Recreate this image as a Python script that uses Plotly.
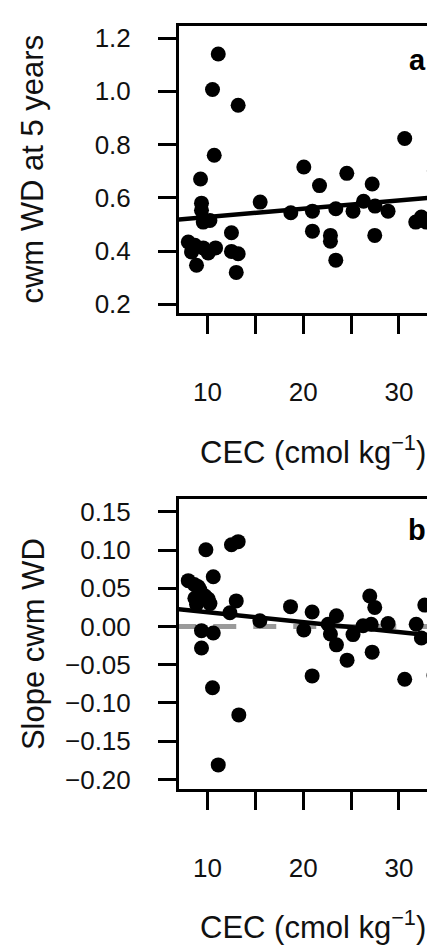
import plotly.graph_objects as go

# ---------------- data ----------------
# Panel a: CEC vs cwm WD at 5 years
cec_a = [11.12, 10.52, 13.2, 10.7, 9.27, 20.06, 21.7, 24.55, 27.2, 30.6, 33.7,
         15.5, 9.37, 9.37, 9.55, 10.25, 18.7, 20.96, 23.4, 25.2, 26.3, 27.5,
         28.86, 31.75, 32.34, 32.86, 20.96, 22.84, 22.84, 23.4, 27.47, 12.5,
         12.5, 13.2, 13.0, 7.99, 8.68, 8.33, 9.55, 10.07, 10.84, 8.85]
wd_a = [1.140, 1.007, 0.948, 0.760, 0.671, 0.716, 0.646, 0.692, 0.652, 0.823, 0.702,
        0.584, 0.580, 0.553, 0.509, 0.515, 0.544, 0.550, 0.559, 0.550, 0.587, 0.569,
        0.550, 0.509, 0.528, 0.509, 0.475, 0.459, 0.437, 0.366, 0.459, 0.469,
        0.399, 0.390, 0.320, 0.434, 0.422, 0.397, 0.412, 0.393, 0.412, 0.347]
fit_a = {"intercept": 0.497, "slope": 0.00312}

# Panel b: CEC vs slope of cwm WD
cec_b = [7.99, 8.61, 9.03, 9.2, 9.73, 8.68, 8.85, 10.07, 10.25, 9.83, 12.5, 13.2,
         10.6, 13.0, 12.34, 15.47, 18.67, 20.93, 20.06, 23.47, 22.6, 22.84, 23.47,
         24.58, 25.2, 20.93, 26.95, 27.47, 26.25, 27.1, 28.86, 27.2, 31.8, 32.7,
         32.34, 30.6, 33.66, 9.37, 10.6, 9.37, 10.52, 13.27, 11.12]
slope_b = [0.060, 0.055, 0.052, 0.048, 0.040, 0.037, 0.029, 0.036, 0.030, 0.1005, 0.107, 0.111,
           0.065, 0.0335, 0.018, 0.0075, 0.026, 0.019, -0.0045, 0.014, 0.003, -0.0097, -0.024,
           -0.044, -0.0106, -0.0646, 0.040, 0.025, 0.001, 0.003, 0.004, -0.0335, 0.003, 0.028,
           -0.015, -0.069, -0.0637, -0.0054, -0.0084, -0.028, -0.080, -0.1156, -0.181]
fit_b = {"intercept": 0.0318, "slope": -0.0013}
zero_line = 0.0

x_tickvals = [10, 20, 30]
x_ticktext = ["10", "20", "30"]
x_minor_ticks = [15, 25]
ya_tickvals = [0.2, 0.4, 0.6, 0.8, 1.0, 1.2]
ya_ticktext = ["0.2", "0.4", "0.6", "0.8", "1.0", "1.2"]
yb_tickvals = [-0.20, -0.15, -0.10, -0.05, 0.0, 0.05, 0.10, 0.15]
yb_ticktext = ["\u22120.20", "\u22120.15", "\u22120.10", "\u22120.05", "0.00", "0.05", "0.10", "0.15"]

x_range = [7.02, 34.6]
ya_range = [0.166, 1.247]
yb_range = [-0.213, 0.167]

# ---------------- figure ----------------
W, H = 435, 948
FONT = "Liberation Sans, Arial, Helvetica, sans-serif"
TXT = "#111111"

fig = go.Figure()

line_x = [6.0, 36.0]
fig.add_trace(go.Scatter(
    x=line_x, y=[fit_a["intercept"] + fit_a["slope"] * v for v in line_x],
    mode="lines", line=dict(color="black", width=4.5), xaxis="x", yaxis="y",
    showlegend=False, hoverinfo="skip"))
fig.add_trace(go.Scatter(
    x=cec_a, y=wd_a, mode="markers",
    marker=dict(size=15, color="black", line=dict(width=0)),
    xaxis="x", yaxis="y", showlegend=False))

fig.add_trace(go.Scatter(
    x=[6.42, 36.0], y=[zero_line, zero_line], mode="lines",
    line=dict(color="#9a9a9a", width=5, dash="23px,17px"),
    xaxis="x2", yaxis="y2", showlegend=False, hoverinfo="skip"))
fig.add_trace(go.Scatter(
    x=line_x, y=[fit_b["intercept"] + fit_b["slope"] * v for v in line_x],
    mode="lines", line=dict(color="black", width=4.5), xaxis="x2", yaxis="y2",
    showlegend=False, hoverinfo="skip"))
fig.add_trace(go.Scatter(
    x=cec_b, y=slope_b, mode="markers",
    marker=dict(size=15, color="black", line=dict(width=0)),
    xaxis="x2", yaxis="y2", showlegend=False))

axis_common = dict(showline=True, linecolor="black", linewidth=3,
                   ticks="outside", ticklen=18, tickwidth=3, tickcolor="black",
                   showgrid=False, zeroline=False,
                   tickfont=dict(family=FONT, size=26, color=TXT))
minor_x = dict(tickvals=x_minor_ticks, ticks="outside", ticklen=18, tickwidth=3,
               tickcolor="black", showgrid=False)

dom_a = [1 - 306 / H, 1 - 15.7 / H]
dom_b = [1 - 786 / H, 1 - 493 / H]

fig.update_layout(
    width=W, height=H,
    margin=dict(l=171, r=0, t=0, b=0),
    paper_bgcolor="white", plot_bgcolor="white",
    showlegend=False,
    xaxis=dict(axis_common, range=x_range, tickvals=x_tickvals, ticktext=x_ticktext,
               minor=minor_x, mirror=True, anchor="y", ticklabelstandoff=35),
    yaxis=dict(axis_common, range=ya_range, tickvals=ya_tickvals, ticktext=ya_ticktext,
               domain=dom_a, anchor="x", ticklabelstandoff=22),
    xaxis2=dict(axis_common, range=x_range, tickvals=x_tickvals, ticktext=x_ticktext,
                minor=minor_x, mirror=True, anchor="y2", ticklabelstandoff=35),
    yaxis2=dict(axis_common, range=yb_range, tickvals=yb_tickvals, ticktext=yb_ticktext,
                domain=dom_b, anchor="x2", ticklabelstandoff=22),
)

PW = W - 171
def px(X):
    return (X - 171) / PW
def py(Y):
    return 1 - Y / H

title_font = dict(family=FONT, size=31, color=TXT)
ann = [
    dict(text="<b>a</b>", x=px(409), y=py(50), font=dict(family=FONT, size=29, color="black")),
    dict(text="<b>b</b>", x=px(409), y=py(524), font=dict(family=FONT, size=29, color="black")),
    dict(text="cwm WD at 5 years", x=px(25), y=py(160.9), textangle=-90, font=title_font),
    dict(text="Slope cwm WD", x=px(25), y=py(639.5), textangle=-90, font=title_font),
    dict(text="CEC (cmol kg<sup>\u22121</sup>)", x=px(304.7), y=py(444), font=title_font),
    dict(text="CEC (cmol kg<sup>\u22121</sup>)", x=px(304.7), y=py(923), font=title_font),
]
for a in ann:
    a.update(xref="paper", yref="paper", xanchor="center", yanchor="middle", showarrow=False)
fig.update_layout(annotations=ann)

fig.write_html("out.html")
